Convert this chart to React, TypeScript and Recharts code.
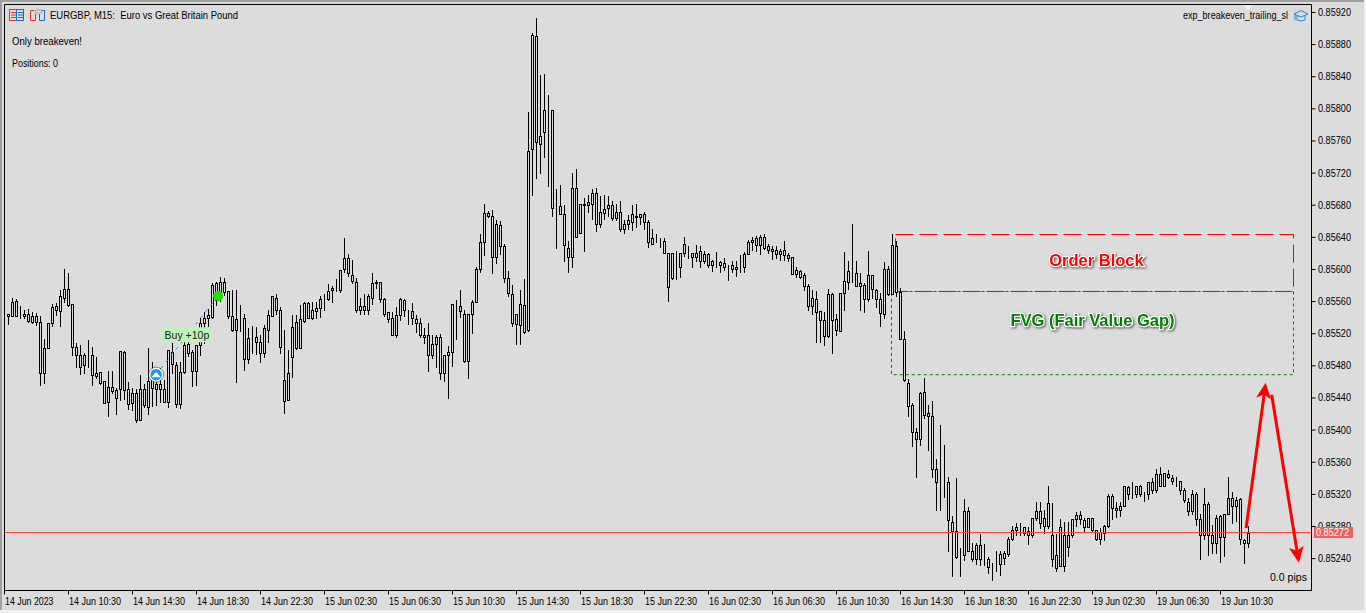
import React from "react";
import { Bar, ComposedChart, ReferenceArea, ReferenceDot, ReferenceLine, XAxis, YAxis } from "recharts";

// prices in points (0.85544 -> 85544), M15 bars
const highs = [
  85547,85545,85564,85563,85554,85550,85551,85547,85546,85542,85514,85533,85557,85558,85574,85600,
  85596,85557,85509,85506,85496,85512,85504,85491,85472,85461,85473,85473,85452,85498,85499,85460,
  85452,85451,85468,85458,85502,85485,85471,85477,85462,85500,85509,85485,85485,85514,85525,85500,
  85506,85539,85547,85551,85583,85585,85591,85589,85573,85574,85574,85556,85545,85527,85529,85528,
  85518,85531,85550,85567,85569,85553,85525,85500,85543,85543,85556,85560,85559,85560,85560,85567,
  85570,85582,85579,85588,85599,85639,85619,85612,85589,85565,85569,85569,85595,85587,85585,85565,
  85547,85547,85553,85564,85563,85550,85558,85543,85540,85527,85533,85519,85518,85520,85493,85505,
  85557,85562,85575,85549,85545,85562,85603,85644,85682,85673,85674,85662,85660,85632,85598,85581,
  85545,85575,85588,85796,85894,85913,85842,85843,85817,85798,85700,85705,85680,85635,85720,85725,
  85681,85689,85693,85700,85702,85691,85693,85691,85685,85681,85685,85661,85668,85680,85682,85669,
  85672,85662,85651,85644,85639,85639,85621,85621,85623,85621,85640,85629,85620,85630,85629,85623,
  85621,85612,85622,85610,85614,85606,85610,85610,85618,85622,85637,85640,85642,85643,85644,85632,
  85629,85629,85626,85635,85620,85615,85603,85599,85595,85582,85574,85573,85548,85547,85576,85571,
  85545,85571,85622,85610,85657,85610,85595,85583,85623,85593,85576,85571,85609,85604,85644,85635,
  85577,85523,85464,85434,85402,85447,85465,85431,85436,85364,85406,85381,85341,85293,85340,85253,
  85314,85304,85260,85259,85271,85258,85242,85235,85249,85249,85249,85267,85280,85284,85284,85279,
  85279,85291,85310,85310,85300,85330,85309,85271,85289,85285,85285,85289,85298,85299,85291,85291,
  85290,85276,85278,85282,85321,85320,85311,85311,85330,85330,85335,85330,85332,85323,85336,85340,
  85352,85354,85346,85350,85344,85342,85337,85328,85315,85325,85323,85296,85328,85310,85282,85294,
  85294,85296,85341,85323,85317,85315,85264,85280,
];
const lows = [
  85543,85532,85542,85542,85540,85540,85535,85533,85531,85456,85459,85502,85529,85543,85529,85560,
  85554,85493,85479,85470,85471,85479,85456,85465,85458,85434,85417,85446,85420,85438,85439,85426,
  85425,85410,85412,85429,85420,85430,85431,85435,85435,85429,85471,85429,85427,85471,85492,85455,
  85456,85493,85508,85529,85540,85556,85561,85568,85540,85524,85460,85524,85475,85483,85496,85495,
  85485,85491,85510,85542,85545,85496,85421,85438,85466,85501,85502,85535,85540,85538,85539,85541,
  85550,85562,85560,85573,85572,85597,85592,85583,85547,85545,85545,85545,85557,85577,85559,85542,
  85535,85518,85516,85537,85542,85532,85532,85522,85516,85509,85474,85490,85478,85464,85461,85440,
  85480,85513,85541,85485,85465,85521,85559,85597,85618,85665,85596,85608,85619,85585,85567,85530,
  85507,85507,85521,85524,85693,85714,85720,85740,85704,85667,85627,85669,85611,85597,85603,85641,
  85645,85623,85672,85663,85648,85653,85663,85667,85661,85662,85648,85646,85651,85649,85653,85657,
  85651,85628,85632,85634,85628,85621,85561,85588,85588,85591,85617,85614,85603,85611,85603,85608,
  85603,85598,85603,85597,85599,85587,85597,85592,85597,85597,85619,85624,85623,85619,85626,85620,
  85613,85614,85612,85612,85610,85594,85591,85589,85574,85549,85545,85510,85510,85506,85516,85496,
  85518,85523,85549,85576,85585,85579,85549,85547,85561,85564,85553,85529,85540,85568,85570,85567,
  85514,85461,85418,85380,85342,85382,85415,85375,85341,85301,85301,85317,85250,85218,85241,85218,
  85238,85249,85237,85233,85232,85232,85222,85213,85225,85220,85233,85243,85263,85269,85269,85269,
  85258,85267,85288,85278,85272,85278,85231,85225,85231,85225,85243,85267,85281,85283,85273,85279,
  85273,85263,85258,85263,85279,85289,85292,85293,85305,85314,85315,85317,85318,85312,85314,85322,
  85323,85330,85330,85340,85333,85330,85320,85310,85294,85296,85282,85240,85264,85245,85247,85247,
  85236,85243,85295,85284,85287,85258,85235,85254,
];
const opens = [
  85544,85545,85542,85561,85542,85542,85545,85534,85542,85535,85471,85502,85533,85554,85548,85565,
  85576,85557,85503,85494,85481,85494,85494,85467,85472,85461,85435,85454,85450,85451,85497,85451,
  85434,85446,85413,85451,85429,85453,85457,85451,85451,85435,85497,85481,85433,85472,85507,85497,
  85473,85506,85533,85539,85541,85583,85572,85584,85573,85542,85525,85539,85539,85489,85516,85516,
  85510,85496,85525,85542,85564,85549,85436,85471,85491,85502,85502,85536,85558,85539,85548,85552,
  85562,85563,85574,85575,85575,85600,85614,85593,85585,85550,85554,85550,85565,85583,85584,85563,
  85547,85539,85518,85543,85562,85548,85548,85538,85533,85519,85518,85494,85507,85516,85471,85493,
  85497,85555,85554,85545,85486,85545,85559,85600,85634,85670,85667,85615,85655,85629,85590,85570,
  85532,85531,85556,85525,85750,85891,85756,85771,85798,85798,85679,85679,85669,85627,85615,85701,
  85645,85680,85684,85682,85695,85656,85670,85676,85680,85664,85671,85650,85657,85659,85667,85665,
  85669,85659,85632,85636,85636,85636,85621,85590,85621,85621,85621,85621,85620,85615,85623,85610,
  85619,85605,85610,85609,85608,85603,85605,85600,85603,85603,85619,85634,85639,85631,85641,85629,
  85625,85624,85619,85624,85618,85615,85594,85598,85593,85580,85554,85563,85548,85537,85517,85569,
  85538,85523,85571,85584,85596,85596,85580,85581,85563,85593,85575,85563,85545,85601,85570,85629,
  85572,85514,85459,85431,85398,85389,85447,85421,85417,85351,85336,85336,85335,85286,85274,85244,
  85245,85299,85249,85239,85257,85240,85239,85232,85232,85233,85247,85246,85264,85276,85279,85279,
  85274,85270,85291,85299,85281,85281,85269,85244,85231,85270,85254,85269,85289,85294,85288,85279,
  85290,85276,85264,85272,85280,85318,85303,85301,85306,85329,85320,85320,85330,85320,85321,85335,
  85326,85345,85330,85345,85340,85337,85337,85326,85311,85299,85320,85289,85270,85308,85269,85259,
  85293,85267,85295,85315,85305,85314,85263,85259,
];
const closes = [
  85545,85542,85559,85542,85542,85545,85536,85542,85534,85471,85502,85533,85553,85549,85567,85576,
  85556,85503,85494,85479,85493,85494,85469,85471,85459,85434,85454,85449,85440,85498,85450,85433,
  85446,85413,85451,85431,85461,85473,85451,85457,85435,85500,85482,85433,85472,85506,85496,85473,
  85506,85533,85540,85543,85581,85562,85585,85572,85542,85525,85538,85539,85488,85515,85516,85510,
  85496,85527,85543,85567,85549,85503,85462,85438,85528,85534,85538,85558,85540,85549,85552,85563,
  85562,85573,85577,85575,85599,85614,85595,85586,85549,85555,85549,85567,85583,85585,85563,85545,
  85538,85519,85543,85563,85550,85548,85539,85533,85518,85516,85494,85507,85516,85471,85493,85497,
  85557,85555,85548,85486,85544,85560,85600,85634,85670,85666,85615,85656,85629,85590,85571,85533,
  85545,85557,85522,85747,85892,85759,85766,85798,85798,85677,85679,85669,85630,85616,85702,85641,
  85681,85682,85680,85695,85657,85671,85675,85680,85664,85671,85650,85657,85661,85669,85665,85669,
  85659,85634,85639,85636,85636,85621,85578,85621,85621,85603,85632,85621,85615,85621,85610,85619,
  85605,85610,85610,85606,85603,85603,85601,85603,85603,85619,85634,85637,85631,85640,85627,85624,
  85623,85619,85623,85618,85614,85594,85599,85591,85579,85554,85564,85547,85537,85517,85569,85537,
  85525,85571,85586,85598,85596,85580,85583,85563,85593,85576,85563,85546,85601,85569,85630,85572,
  85514,85462,85430,85398,85389,85446,85419,85417,85351,85335,85336,85336,85288,85274,85242,85244,
  85299,85249,85239,85257,85239,85240,85230,85232,85232,85246,85241,85264,85276,85279,85279,85272,
  85269,85291,85299,85284,85291,85309,85240,85228,85279,85231,85270,85289,85294,85289,85279,85290,
  85276,85264,85273,85280,85318,85303,85300,85305,85330,85320,85320,85330,85321,85320,85335,85325,
  85345,85331,85346,85342,85337,85337,85326,85313,85299,85320,85289,85270,85308,85269,85259,85291,
  85267,85295,85315,85306,85313,85264,85259,85272,
];

const priceTicks = [85920,85880,85840,85800,85760,85720,85680,85640,85600,85560,85520,85480,85440,85400,85360,85320,85280,85240];
const timeLabels = [
  "14 Jun 2023","14 Jun 10:30","14 Jun 14:30","14 Jun 18:30","14 Jun 22:30","15 Jun 02:30","15 Jun 06:30",
  "15 Jun 10:30","15 Jun 14:30","15 Jun 18:30","15 Jun 22:30","16 Jun 02:30","16 Jun 06:30","16 Jun 10:30",
  "16 Jun 14:30","16 Jun 18:30","16 Jun 22:30","19 Jun 02:30","19 Jun 06:30","19 Jun 10:30",
];
const barsPerLabel = 16;
const bidPrice = 85272;
const minPrice = 85200.3;
const maxPrice = 85929.9;
const lastSlot = 326.75;

const orderBlock = { x1: 222.75, x2: 322.25, top: 85643.5, bottom: 85572.6 };
const fvg = { x1: 221.75, x2: 322.25, top: 85572.6, bottom: 85469 };
const arrowUp = [{ x: 310.4, y: 85278 }, { x: 315.3, y: 85459 }];
const arrowDown = [{ x: 316.8, y: 85444 }, { x: 323.6, y: 85235 }];
const tradeLine = [{ x: 37.9, y: 85469 }, { x: 53.4, y: 85567 }];

const data = highs.map((high, i) => ({ idx: i, high, low: lows[i], open: opens[i], close: closes[i] }));
const timeTicks = timeLabels.map((_, i) => i * barsPerLabel);

const font = "'Liberation Sans', Arial, sans-serif";
const bg = "#DCDCDC";

function Candle(props: any) {
  const { x, y, width, height, payload } = props;
  const cx = Math.floor(x + width / 2) + 0.5;
  const h = Math.abs(height);
  const top = Math.min(y, y + height);
  const k = payload.high > payload.low ? h / (payload.high - payload.low) : 0;
  const bodyTop = Math.round(top + (payload.high - Math.max(payload.open, payload.close)) * k) + 0.5;
  const bodyBottom = Math.round(top + (payload.high - Math.min(payload.open, payload.close)) * k) + 0.5;
  return (
    <g shapeRendering="crispEdges">
      <line x1={cx} x2={cx} y1={Math.round(top)} y2={Math.round(top + h) + 1} stroke="#000" />
      <rect x={cx - 1} y={bodyTop} width={2} height={bodyBottom - bodyTop} fill={bg} stroke="#000" />
    </g>
  );
}

function PriceTick(props: any) {
  const { x, y, payload } = props;
  return (
    <text x={x + 0.5} y={y + 3.5} fontFamily={font} fontSize={10} fill="#000" textLength={33} lengthAdjust="spacingAndGlyphs">
      {(payload.value / 100000).toFixed(5)}
    </text>
  );
}

function TimeTick(props: any) {
  const { x, y, payload } = props;
  const label = timeLabels[payload.value / barsPerLabel];
  return (
    <text x={x + 0.5} y={y + 8.5} fontFamily={font} fontSize={10} fill="#000" textLength={label.includes(":") ? 52 : 48.5} lengthAdjust="spacingAndGlyphs">
      {label}
    </text>
  );
}

function Arrow(props: any) {
  const { x1, y1, x2, y2 } = props;
  const len = Math.hypot(x2 - x1, y2 - y1);
  const ux = (x2 - x1) / len;
  const uy = (y2 - y1) / len;
  const bx = x2 - ux * 16;
  const by = y2 - uy * 16;
  const notchX = x2 - ux * 12;
  const notchY = y2 - uy * 12;
  return (
    <g>
      <line x1={x1} y1={y1} x2={notchX} y2={notchY} stroke="#FF0000" strokeWidth={3} />
      <path d={`M${x2} ${y2}L${bx - uy * 7.5} ${by + ux * 7.5}L${notchX} ${notchY}L${bx + uy * 7.5} ${by - ux * 7.5}Z`} fill="#FF0000" />
    </g>
  );
}

function ZoneLabel(props: any) {
  const { cx, cy, text, color } = props;
  return (
    <text
      x={cx}
      y={cy}
      textAnchor="middle"
      dominantBaseline="central"
      fontFamily={font}
      fontWeight="bold"
      fontSize={16.5}
      fill={color}
      stroke="#fff"
      strokeWidth={2.5}
      paintOrder="stroke"
      style={{ filter: "drop-shadow(1px 1px 1px #555)" }}
    >
      {text}
    </text>
  );
}

function BuyTag(props: any) {
  const { cx, cy } = props;
  return (
    <g>
      <rect x={cx - 25} y={cy - 8} width={50} height={15} rx={3} fill="#BDF5B9" />
      <text x={cx} y={cy + 3.5} textAnchor="middle" fontFamily={font} fontSize={10.5} fill="#222">
        Buy +10p
      </text>
    </g>
  );
}

function EntryMark(props: any) {
  const { cx, cy } = props;
  return (
    <g>
      <circle cx={cx} cy={cy} r={6.5} fill="#1E96E8" stroke="#fff" strokeWidth={1.5} />
      <circle cx={cx} cy={cy} r={7.5} fill="none" stroke="#333" strokeWidth={0.5} />
      <path d={`M${cx - 4.5} ${cy + 2.5}L${cx} ${cy - 3}L${cx + 4.5} ${cy + 2.5}Z`} fill="#fff" />
    </g>
  );
}

function Caption(props: { x: number; y: number; w: number; text: string; fill?: string }) {
  return (
    <text x={props.x} y={props.y} fontFamily={font} fontSize={10} fill={props.fill || "#000"} textLength={props.w} lengthAdjust="spacingAndGlyphs" style={{ whiteSpace: "pre" }}>
      {props.text}
    </text>
  );
}

export default function App() {
  return (
    <div style={{ position: "absolute", left: 0, top: 0, width: 1366, height: 613, background: "#F0F0F0", overflow: "hidden" }}>
      <div style={{ position: "absolute", left: 0, top: 0, width: 1364, height: 610, background: bg, borderLeft: "2px solid #A0A0A0", borderTop: "2px solid #A0A0A0", boxSizing: "border-box" }} />
      <ComposedChart
        width={1366}
        height={613}
        data={data}
        margin={{ top: 4.5, left: 4.5, right: 0, bottom: 0 }}
        style={{ position: "absolute", left: 0, top: 0 }}
      >
        <XAxis
          type="number"
          dataKey="idx"
          domain={[0, lastSlot]}
          ticks={timeTicks}
          interval={0}
          height={22.5}
          tickSize={4}
          tickLine={{ stroke: "#000" }}
          axisLine={{ stroke: "#000" }}
          tick={<TimeTick />}
        />
        <YAxis
          type="number"
          orientation="right"
          domain={[minPrice, maxPrice]}
          ticks={priceTicks}
          interval={0}
          width={54.5}
          tickSize={4}
          tickLine={{ stroke: "#000" }}
          axisLine={{ stroke: "#000" }}
          tick={<PriceTick />}
        />
        <ReferenceLine x={0} stroke="#000" />
        <ReferenceLine y={maxPrice} stroke="#000" />
        <ReferenceArea x1={orderBlock.x1} x2={orderBlock.x2} y1={orderBlock.bottom} y2={orderBlock.top} fill="none" stroke="#FF0000" strokeDasharray="18 6" />
        <ReferenceArea x1={fvg.x1} x2={fvg.x2} y1={fvg.bottom} y2={fvg.top} fill="none" stroke="#008000" strokeDasharray="3 3" />
        <Bar dataKey={(d: any) => [d.low, d.high]} barSize={3} isAnimationActive={false} shape={<Candle />} />
        <ReferenceLine y={bidPrice + 0.6} stroke="#FF4040" strokeWidth={1} shapeRendering="crispEdges" />
        <ReferenceLine segment={tradeLine} stroke="#1E96E8" strokeDasharray="3 5" />
        <ReferenceLine segment={arrowUp} shape={<Arrow />} />
        <ReferenceLine segment={arrowDown} shape={<Arrow />} />
        <ReferenceDot x={37.9} y={85469} shape={<EntryMark />} />
        <ReferenceDot x={53.4} y={85567} shape={(p: any) => <circle cx={p.cx} cy={p.cy} r={5} fill="#22E000" />} />
        <ReferenceDot x={45.6} y={85518} shape={<BuyTag />} />
        <ReferenceDot x={273} y={85612} shape={(p: any) => <ZoneLabel {...p} text="Order Block" color="#FF0000" />} />
        <ReferenceDot x={272} y={85537} shape={(p: any) => <ZoneLabel {...p} text="FVG (Fair Value Gap)" color="#008000" />} />
      </ComposedChart>

      <svg width={1366} height={613} style={{ position: "absolute", left: 0, top: 0, pointerEvents: "none" }}>
        <g transform="translate(9 9)">
          <rect x={0.5} y={0.5} width={7} height={11} fill="none" stroke="#E83030" />
          <rect x={7.5} y={0.5} width={7} height={11} fill="none" stroke="#1070C0" />
          <path d="M2 3.5H7M2 6H7M2 8.5H7" stroke="#E83030" />
          <path d="M9 3.5H14M9 6H14M9 8.5H14" stroke="#1070C0" />
          <path d="M21.5 1.5V11.5H26.5V5M21.5 1.5H25" fill="none" stroke="#E83030" />
          <path d="M35.5 1.5V11.5H30.5V5M35.5 1.5H33" fill="none" stroke="#1070C0" />
          <rect x={26.5} y={1} width={6} height={3} fill="none" stroke="#AAA" />
        </g>
        <Caption x={50} y={19} w={188} text="EURGBP, M15:  Euro vs Great Britain Pound" />
        <Caption x={12} y={45} w={70} text="Only breakeven!" />
        <Caption x={12} y={67} w={46} text="Positions: 0" />
        <Caption x={1183} y={19} w={105} text="exp_breakeven_trailing_sl" />
        <Caption x={1270} y={581} w={37} text="0.0 pips" />
        <g transform="translate(1293 9)" fill="none" stroke="#1E88D0">
          <path d="M1 5L8 1.5L15 5L8 8Z" />
          <path d="M4 7V11Q8 13 12 11V7M2 5V11" />
        </g>
        <path d="M1243 5H1253L1248 10Z" fill="#F4F4F4" />
        <rect x={1314} y={527} width={39} height={11} fill="#EE5F5F" />
        <Caption x={1316} y={536} w={33} fill="#fff" text={(bidPrice / 100000).toFixed(5)} />
      </svg>
    </div>
  );
}
